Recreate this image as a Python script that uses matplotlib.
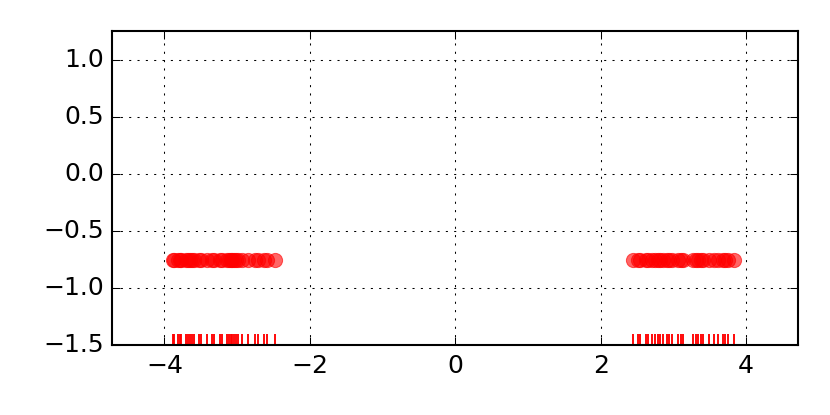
import numpy as np
import matplotlib
matplotlib.use("Agg")
import matplotlib.pyplot as plt

left_x = [-3.876, -3.863, -3.808, -3.780, -3.766, -3.698, -3.670, -3.643, -3.615,
          -3.588, -3.519, -3.491, -3.409, -3.340, -3.313, -3.230, -3.203, -3.134,
          -3.107, -3.079, -3.065, -3.038, -3.010, -2.983, -2.928, -2.845, -2.749,
          -2.708, -2.625, -2.584, -2.474]
right_x = [2.447, 2.515, 2.543, 2.625, 2.653, 2.708, 2.749, 2.790, 2.818, 2.859,
           2.914, 2.942, 2.983, 3.065, 3.107, 3.134, 3.271, 3.313, 3.340, 3.381,
           3.409, 3.491, 3.560, 3.615, 3.684, 3.711, 3.753, 3.835]
point_y = -0.75
rug_bottom, rug_top = -1.5, -1.4

plt.style.use('classic')
fig, ax = plt.subplots(figsize=(830 / 150, 415 / 150), dpi=150)
fig.patch.set_facecolor('white')

xs = np.array(left_x + right_x)
ax.plot(xs, np.full(len(xs), point_y), 'o', color='red', mec='red',
        ms=6.8, alpha=0.6)
ax.vlines(xs, rug_bottom, rug_top, color='red', lw=0.9)

ax.set_xlim(-4.72, 4.72)
ax.set_ylim(-1.5, 1.25)
ax.set_xticks([-4, -2, 0, 2, 4])
ax.set_yticks([-1.5, -1.0, -0.5, 0.0, 0.5, 1.0])
ax.grid(True)

fig.subplots_adjust(left=0.135, right=0.962, top=0.925, bottom=0.168)
fig.savefig("out.png", dpi=150, facecolor='white')
